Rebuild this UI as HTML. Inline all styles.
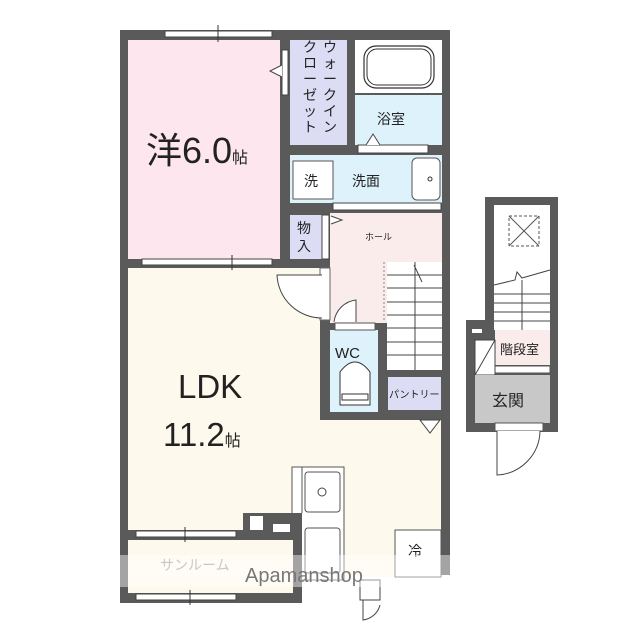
<!DOCTYPE html>
<html><head><meta charset="utf-8"><style>
html,body{margin:0;padding:0;background:#fff;width:637px;height:640px;overflow:hidden}
svg{display:block}
text{font-family:"Liberation Sans","Noto Sans CJK JP",sans-serif;fill:#222}
</style></head><body>
<svg width="637" height="640" viewBox="0 0 637 640" xmlns="http://www.w3.org/2000/svg">
<rect x="120" y="30" width="330" height="573" fill="#5a5a5a"/>
<rect x="302" y="580" width="148" height="30" fill="#fff"/>
<rect x="302" y="575" width="148" height="5" fill="#fff"/>
<rect x="128" y="40" width="152" height="219" fill="#fde6ee"/>
<rect x="290" y="40" width="57" height="105" fill="#dcdcf5"/>
<rect x="355" y="40" width="87" height="53" fill="#fff"/>
<rect x="364" y="46" width="70" height="42" rx="12" fill="none" stroke="#333" stroke-width="1.2"/>
<rect x="367" y="49" width="64" height="36" rx="10" fill="none" stroke="#333" stroke-width="1"/>
<rect x="355" y="95" width="87" height="50" fill="#def2fb"/>
<rect x="290" y="155" width="152" height="48" fill="#def2fb"/>
<rect x="293" y="161" width="40" height="38" fill="#fff" stroke="#555"/>
<rect x="412" y="158" width="28" height="42" rx="5" fill="#fff" stroke="#555"/>
<circle cx="430" cy="179" r="2" fill="none" stroke="#333"/>
<rect x="290" y="215" width="32" height="44" fill="#dcdcf5"/>
<rect x="330" y="213" width="112" height="110" fill="#fbecec"/>
<rect x="387" y="262" width="55" height="108" fill="#fff"/>
<g stroke="#444" stroke-width="1">
<line x1="387" y1="275" x2="442" y2="275"/><line x1="387" y1="288" x2="442" y2="288"/>
<line x1="387" y1="302" x2="442" y2="302"/><line x1="387" y1="315" x2="442" y2="315"/>
<line x1="387" y1="328" x2="442" y2="328"/><line x1="387" y1="342" x2="442" y2="342"/>
<line x1="387" y1="355" x2="442" y2="355"/><line x1="415" y1="262" x2="415" y2="370"/>
<line x1="414" y1="265" x2="422" y2="282"/>
</g>
<line x1="384" y1="262" x2="384" y2="320" stroke="#888" stroke-dasharray="2,2"/>
<rect x="330" y="330" width="48" height="82" fill="#def2fb"/>
<rect x="335" y="323" width="40" height="7" fill="#fff" stroke="#555"/>
<path d="M340 405 V372 Q355 352 370 372 V405 Z" fill="#fff" stroke="#333"/>
<rect x="342" y="394" width="26" height="6" fill="#fff" stroke="#333"/>
<path d="M334 322 A25 25 0 0 1 356 300 V322" fill="#fff" stroke="#444"/>
<rect x="388" y="377" width="53" height="33" fill="#dcdcf5"/>
<path d="M128 268 H320 V420 H441 V577 H300 V530 H128 Z" fill="#fdf9ec"/>
<rect x="320" y="268" width="10" height="52" fill="#fff" stroke="#666"/>
<path d="M322 318 A45 45 0 0 1 277 275 H322" fill="#fff" stroke="#444"/>
<path d="M420 420 H440 L430 433 Z" fill="#fff" stroke="#444"/>
<rect x="292" y="467" width="52" height="113" fill="#fff" stroke="#555"/>
<line x1="302" y1="467" x2="302" y2="513" stroke="#555"/>
<rect x="305" y="472" width="35" height="40" rx="3" fill="#fff" stroke="#555"/>
<circle cx="322" cy="492" r="4" fill="none" stroke="#444"/>
<rect x="305" y="528" width="35" height="45" rx="3" fill="#fff" stroke="#555"/>
<rect x="243" y="513" width="50" height="27" fill="#5a5a5a"/>
<rect x="250" y="516" width="13" height="14" fill="#fff"/>
<rect x="273" y="524" width="17" height="8" fill="#fff"/>
<rect x="395" y="530" width="46" height="47" fill="#fff" stroke="#555"/>
<rect x="128" y="540" width="165" height="53" fill="#fdf9ec"/>
<rect x="293" y="513" width="9" height="90" fill="#5a5a5a"/>
<g fill="#fff" stroke="#444" stroke-width="1">
<rect x="165" y="31" width="107" height="6"/>
<rect x="142" y="259" width="130" height="6"/>
<rect x="136" y="531" width="100" height="6"/>
<rect x="136" y="594" width="100" height="6"/>
<rect x="333" y="203" width="108" height="7"/>
<rect x="358" y="145" width="70" height="8"/>
<rect x="282" y="50" width="6" height="45"/>
<rect x="322" y="215" width="7" height="44"/>
<rect x="360" y="580" width="20" height="20"/>
</g>
<path d="M282 65 L270 71 L282 77" fill="#fff" stroke="#444"/>
<path d="M366 145 L373 134 L380 145" fill="#fff" stroke="#444"/>
<path d="M331 216 L342 220 L331 224" fill="#fff" stroke="#444"/>
<path d="M363 600 V620 A20 20 0 0 0 380 605" fill="none" stroke="#444"/>
<g stroke="#333"><line x1="218" y1="25" x2="218" y2="42"/><line x1="232" y1="255" x2="232" y2="270"/><line x1="185" y1="527" x2="185" y2="542"/><line x1="190" y1="590" x2="190" y2="605"/></g>
<rect x="485" y="197" width="73" height="235" fill="#5a5a5a"/>
<rect x="466" y="320" width="30" height="112" fill="#5a5a5a"/>
<rect x="494" y="205" width="56" height="125" fill="#fff"/>
<rect x="509" y="216" width="30" height="30" fill="none" stroke="#555" stroke-dasharray="3,2"/>
<line x1="509" y1="216" x2="539" y2="246" stroke="#555"/><line x1="539" y1="216" x2="509" y2="246" stroke="#555"/>
<g stroke="#444"><path d="M494 285 L515 280 L517 272 L522 278 L550 270" fill="none"/><line x1="494" y1="294" x2="550" y2="294"/><line x1="494" y1="303" x2="550" y2="303"/><line x1="494" y1="312" x2="550" y2="312"/><line x1="494" y1="321" x2="550" y2="321"/><line x1="522" y1="280" x2="522" y2="330"/></g>
<rect x="495" y="330" width="55" height="35" fill="#fbecec"/>
<rect x="495" y="366" width="55" height="7" fill="#fff" stroke="#555"/>
<rect x="475" y="340" width="20" height="35" fill="#fff" stroke="#444"/>
<line x1="475" y1="375" x2="495" y2="340" stroke="#444"/>
<rect x="472" y="329" width="10" height="4" fill="#fff"/>
<rect x="475" y="375" width="75" height="48" fill="#c8c8c8"/>
<rect x="495" y="423" width="48" height="8" fill="#fff" stroke="#555"/>
<path d="M497 431 V475 A45 45 0 0 0 540 431" fill="#fff" stroke="#444"/>
<text x="146" y="163" font-size="36">洋6.0<tspan font-size="16">帖</tspan></text>
<text x="178" y="398" font-size="33">LDK</text>
<text x="163" y="446" font-size="33">11.2<tspan font-size="16">帖</tspan></text>
<g font-size="14"><text x="323" y="52">ウ</text><text x="323" y="68">ォ</text><text x="323" y="84">ー</text><text x="323" y="100">ク</text><text x="323" y="116">イ</text><text x="323" y="132">ン</text>
<text x="303" y="52">ク</text><text x="303" y="68">ロ</text><text x="303" y="84">ー</text><text x="303" y="100">ゼ</text><text x="303" y="116">ッ</text><text x="303" y="132">ト</text></g>
<text x="377" y="124" font-size="14">浴室</text>
<text x="304" y="186" font-size="14">洗</text>
<text x="352" y="186" font-size="14">洗面</text>
<text x="297" y="233" font-size="14">物</text><text x="297" y="251" font-size="14">入</text>
<text x="365" y="240" font-size="9">ホール</text>
<text x="335" y="358" font-size="15">WC</text>
<text x="389" y="398" font-size="10">パントリー</text>
<text x="408" y="556" font-size="14">冷</text>
<text x="160" y="570" font-size="14" style="fill:#999">サンルーム</text>
<text x="500" y="354" font-size="13">階段室</text>
<text x="492" y="406" font-size="16">玄関</text>
<rect x="120" y="555" width="340" height="32" fill="#fff" opacity="0.45"/>
<text x="245" y="582" font-size="20" style="fill:#777">Apamanshop</text>
</svg>
</body></html>
